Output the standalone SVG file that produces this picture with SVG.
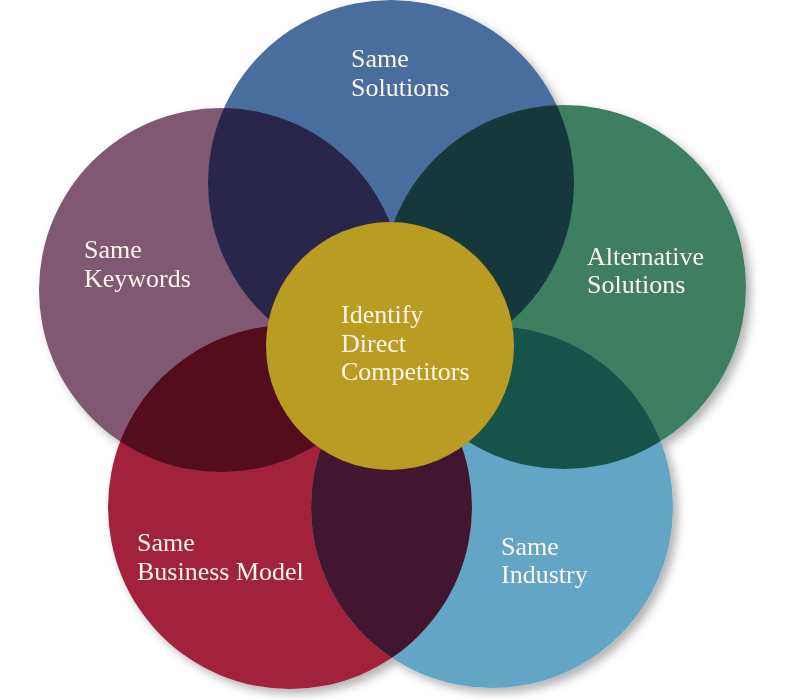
<svg xmlns="http://www.w3.org/2000/svg" width="800" height="700" viewBox="0 0 800 700">
  <style>
    .lbl { font-family: "Liberation Serif", "Times New Roman", serif; font-size: 26px; fill: #fbf7ec; }
  </style>
  <defs>
    <filter id="shadow" x="-10%" y="-10%" width="120%" height="120%">
      <feDropShadow dx="5" dy="5" stdDeviation="5" flood-color="#000" flood-opacity="0.3"/>
    </filter>
    <clipPath id="clip-purple"><circle cx="221" cy="290" r="182"/></clipPath>
    <clipPath id="clip-blue"><circle cx="391" cy="183" r="183"/></clipPath>
    <clipPath id="clip-green"><circle cx="564" cy="287" r="182"/></clipPath>
    <clipPath id="clip-red"><circle cx="290" cy="507" r="182"/></clipPath>
  </defs>
  <rect width="800" height="700" fill="#ffffff"/>
  <g filter="url(#shadow)">
    <g id="same-keywords">
      <circle cx="221" cy="290" r="182" fill="#805872"/>
      <text class="lbl" x="84" y="258">Same</text>
      <text class="lbl" x="84" y="287">Keywords</text>
    </g>
    <g id="same-solutions">
      <circle cx="391" cy="183" r="183" fill="#4a6e9e"/>
      <circle cx="391" cy="183" r="183" fill="#29274b" clip-path="url(#clip-purple)"/>
      <text class="lbl" x="351" y="67">Same</text>
      <text class="lbl" x="351" y="96">Solutions</text>
    </g>
    <g id="alternative-solutions">
      <circle cx="564" cy="287" r="182" fill="#3e7f60"/>
      <circle cx="564" cy="287" r="182" fill="#14383e" clip-path="url(#clip-blue)"/>
      <text class="lbl" x="587" y="265">Alternative</text>
      <text class="lbl" x="587" y="293">Solutions</text>
    </g>
    <g id="same-business-model">
      <circle cx="290" cy="507" r="182" fill="#a2233b"/>
      <circle cx="290" cy="507" r="182" fill="#520c1f" clip-path="url(#clip-purple)"/>
      <text class="lbl" x="137" y="551">Same</text>
      <text class="lbl" x="137" y="580">Business Model</text>
    </g>
    <g id="same-industry">
      <circle cx="492" cy="507" r="181" fill="#64a5c5"/>
      <circle cx="492" cy="507" r="181" fill="#17524a" clip-path="url(#clip-green)"/>
      <circle cx="492" cy="507" r="181" fill="#42172e" clip-path="url(#clip-red)"/>
      <text class="lbl" x="501" y="555">Same</text>
      <text class="lbl" x="501" y="583">Industry</text>
    </g>
    <g id="identify-direct-competitors">
      <circle cx="390" cy="346" r="124" fill="#b99c22"/>
      <text class="lbl" x="341" y="323">Identify</text>
      <text class="lbl" x="341" y="352">Direct</text>
      <text class="lbl" x="341" y="380">Competitors</text>
    </g>
  </g>
</svg>
